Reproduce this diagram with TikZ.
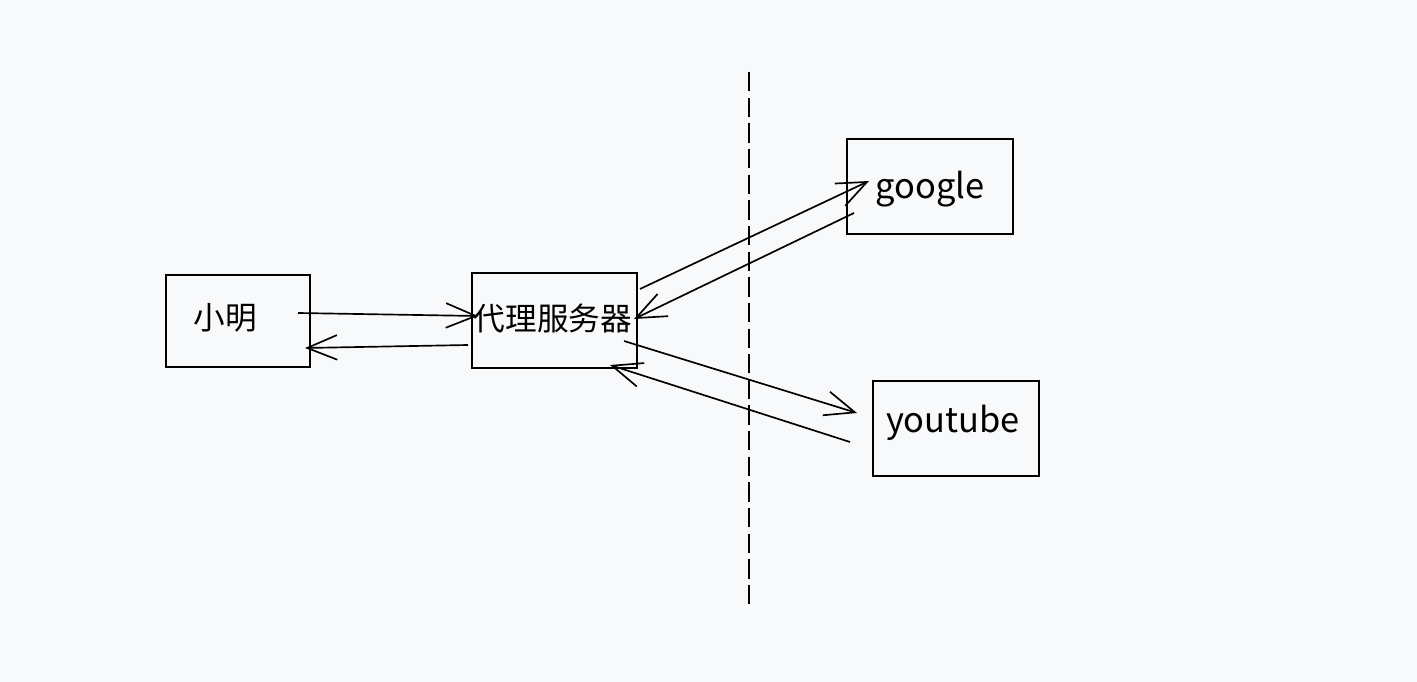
\documentclass[tikz,border=0pt]{standalone}
\usepackage{fontspec}
\newfontfamily\cjk{Noto Sans CJK SC}
\usetikzlibrary{arrows.meta}
\definecolor{bg}{HTML}{F8F9FB}
\begin{document}
\begin{tikzpicture}[x=0.02cm,y=-0.02cm,
  box/.style={draw,line width=1.15pt,inner sep=0pt,anchor=north west},
  lbl/.style={font=\cjk\fontsize{18pt}{20pt}\selectfont,inner sep=0pt},
  lbllat/.style={font=\cjk\fontsize{19.6pt}{22pt}\selectfont,inner sep=0pt},
  conn/.style={line width=0.95pt,-{Straight Barb[length=17pt,width=14pt,line width=0.95pt]}},
  divider/.style={line width=1.1pt,dash pattern=on 11pt off 3.6pt}]
\fill[bg] (0,0) rectangle (1417,682);
\useasboundingbox (0,0) rectangle (1417,682);
% boxes
\node[box,minimum width=144*0.02cm,minimum height=92*0.02cm] (xm) at (165,274) {};
\node[box,minimum width=165*0.02cm,minimum height=95*0.02cm] (px) at (471,272) {};
\node[box,minimum width=166*0.02cm,minimum height=95*0.02cm] (gg) at (846,138) {};
\node[box,minimum width=166*0.02cm,minimum height=95*0.02cm] (yt) at (872,380) {};
% labels
\node[lbl] (xmt) at (225,318) {小明};
\node[lbl] (pxt) at (553,318) {代理服务器};
\node[lbllat] (ggt) at (930,189) {google};
\node[lbllat] (ytt) at (953,423) {youtube};
% divider
\coordinate (d1) at (749,72);
\coordinate (d2) at (749,606);
\draw[divider] (d1) -- (d2);
% connector endpoints
\coordinate (a1) at (298,313); \coordinate (b1) at (478,316);
\coordinate (a2) at (468,345); \coordinate (b2) at (305,348);
\coordinate (a3) at (640,289); \coordinate (b3) at (869,181);
\coordinate (a4) at (854,213); \coordinate (b4) at (634,319);
\coordinate (a5) at (624,341); \coordinate (b5) at (857,413);
\coordinate (a6) at (850,442); \coordinate (b6) at (610,365);
\draw[conn] (a1) -- (b1);
\draw[conn] (a2) -- (b2);
\draw[conn] (a3) -- (b3);
\draw[conn] (a4) -- (b4);
\draw[conn] (a5) -- (b5);
\draw[conn] (a6) -- (b6);
\end{tikzpicture}
\end{document}
